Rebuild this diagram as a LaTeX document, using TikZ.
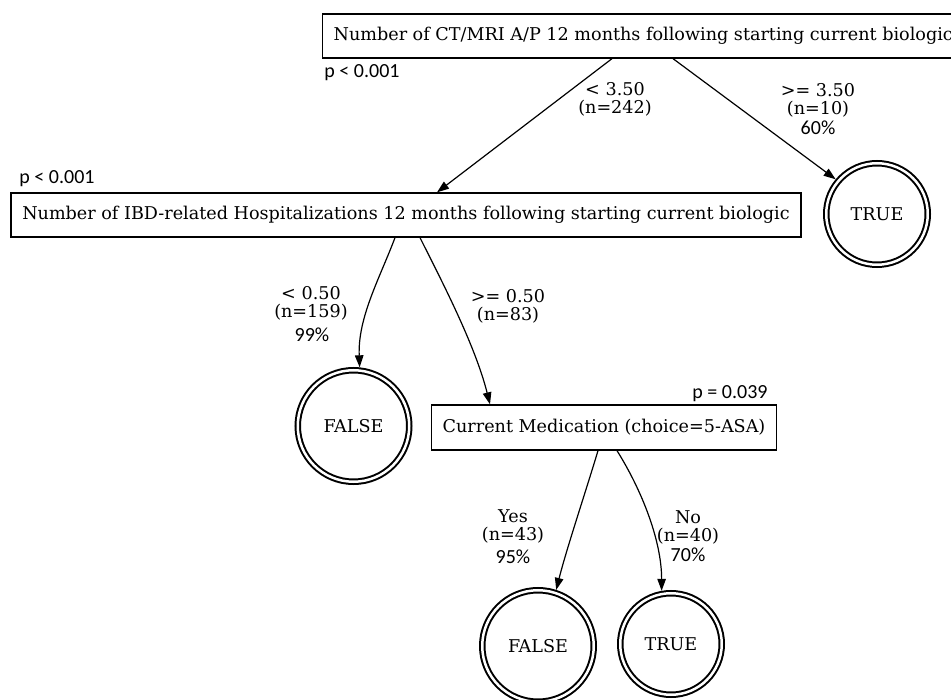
\documentclass[tikz,border=0pt]{standalone}
\usepackage{fontspec}
\setmainfont{DejaVu Serif}
\newfontfamily\calibfont{Carlito}
\usetikzlibrary{arrows.meta}

\begin{document}
\begin{tikzpicture}[x=1pt,y=-1pt,font=\fontsize{17.6}{18}\selectfont,
  split/.style={draw,line width=1.3pt,minimum height=44pt,inner xsep=11pt,fill=white},
  leaf/.style={circle,draw,line width=2pt,double=white,double distance=2.5pt,outer sep=3.25pt,inner sep=0pt},
  lab/.style={align=center,inner sep=0pt},
  pct/.style={font=\calibfont\fontsize{20}{20}\selectfont,inner sep=0pt},
  link/.style={->,line width=1.2pt},>={Triangle[length=12pt,width=8.5pt]}]
\useasboundingbox (0,0) rectangle (951,700);
\clip (0,0) rectangle (951,700);
% split nodes
\node[split,anchor=west] (top) at (322,36) {Number of CT/MRI A/P 12 months following starting current biologic};
\node[split,minimum width=790pt] (hosp) at (406,215) {Number of IBD-related Hospitalizations 12 months following starting current biologic};
\node[split,minimum width=342pt,minimum height=45pt] (med) at (604,427.5) {Current Medication (choice=5-ASA)};
% leaves
\node[leaf,minimum size=101.5pt] (tTop) at (877,214) {TRUE};
\node[leaf,minimum size=111.5pt] (fMid) at (353.5,426) {FALSE};
\node[leaf,minimum size=111.5pt] (fLow) at (538,646) {FALSE};
\node[leaf,minimum size=101.5pt] (tLow) at (671,644) {TRUE};
% p values
\node[pct] (p1) at (362,73) {p < 0.001};
\node[pct] (p2) at (57,179) {p < 0.001};
\node[pct] (p3) at (730,394) {p = 0.039};
% connectors
\draw[link] ([xshift=290pt]top.south west) -- ([xshift=31pt]hosp.north);
\draw[link] ([xshift=351pt]top.south west) -- (tTop.140);
\draw[link] ([xshift=-11pt]hosp.south) .. controls +(-15,40) and +(-2,-50) .. (fMid.84);
\draw[link] ([xshift=14pt]hosp.south) .. controls +(20,40) and +(-15,-60) .. ([xshift=-114pt]med.north);
\draw[link] ([xshift=-6pt]med.south) .. controls +(-12,40) and +(10,-40) .. (fLow.72);
\draw[link] ([xshift=13pt]med.south) .. controls +(25,40) and +(0,-50) .. (tLow.100);
% edge labels
\node[lab] (l1) at (615,99) {< 3.50\\(n=242)};
\node[lab] (l2) at (818,100) {>= 3.50\\(n=10)};
\node[pct] (c2) at (818,128) {60\%};
\node[lab] (l3) at (311,303) {< 0.50\\(n=159)};
\node[pct] (c3) at (312,335) {99\%};
\node[lab] (l4) at (508,306) {>= 0.50\\(n=83)};
\node[lab] (l5) at (513,526) {Yes\\(n=43)};
\node[pct] (c5) at (513,557) {95\%};
\node[lab] (l6) at (688,527) {No\\(n=40)};
\node[pct] (c6) at (688,555) {70\%};
\end{tikzpicture}
\end{document}
